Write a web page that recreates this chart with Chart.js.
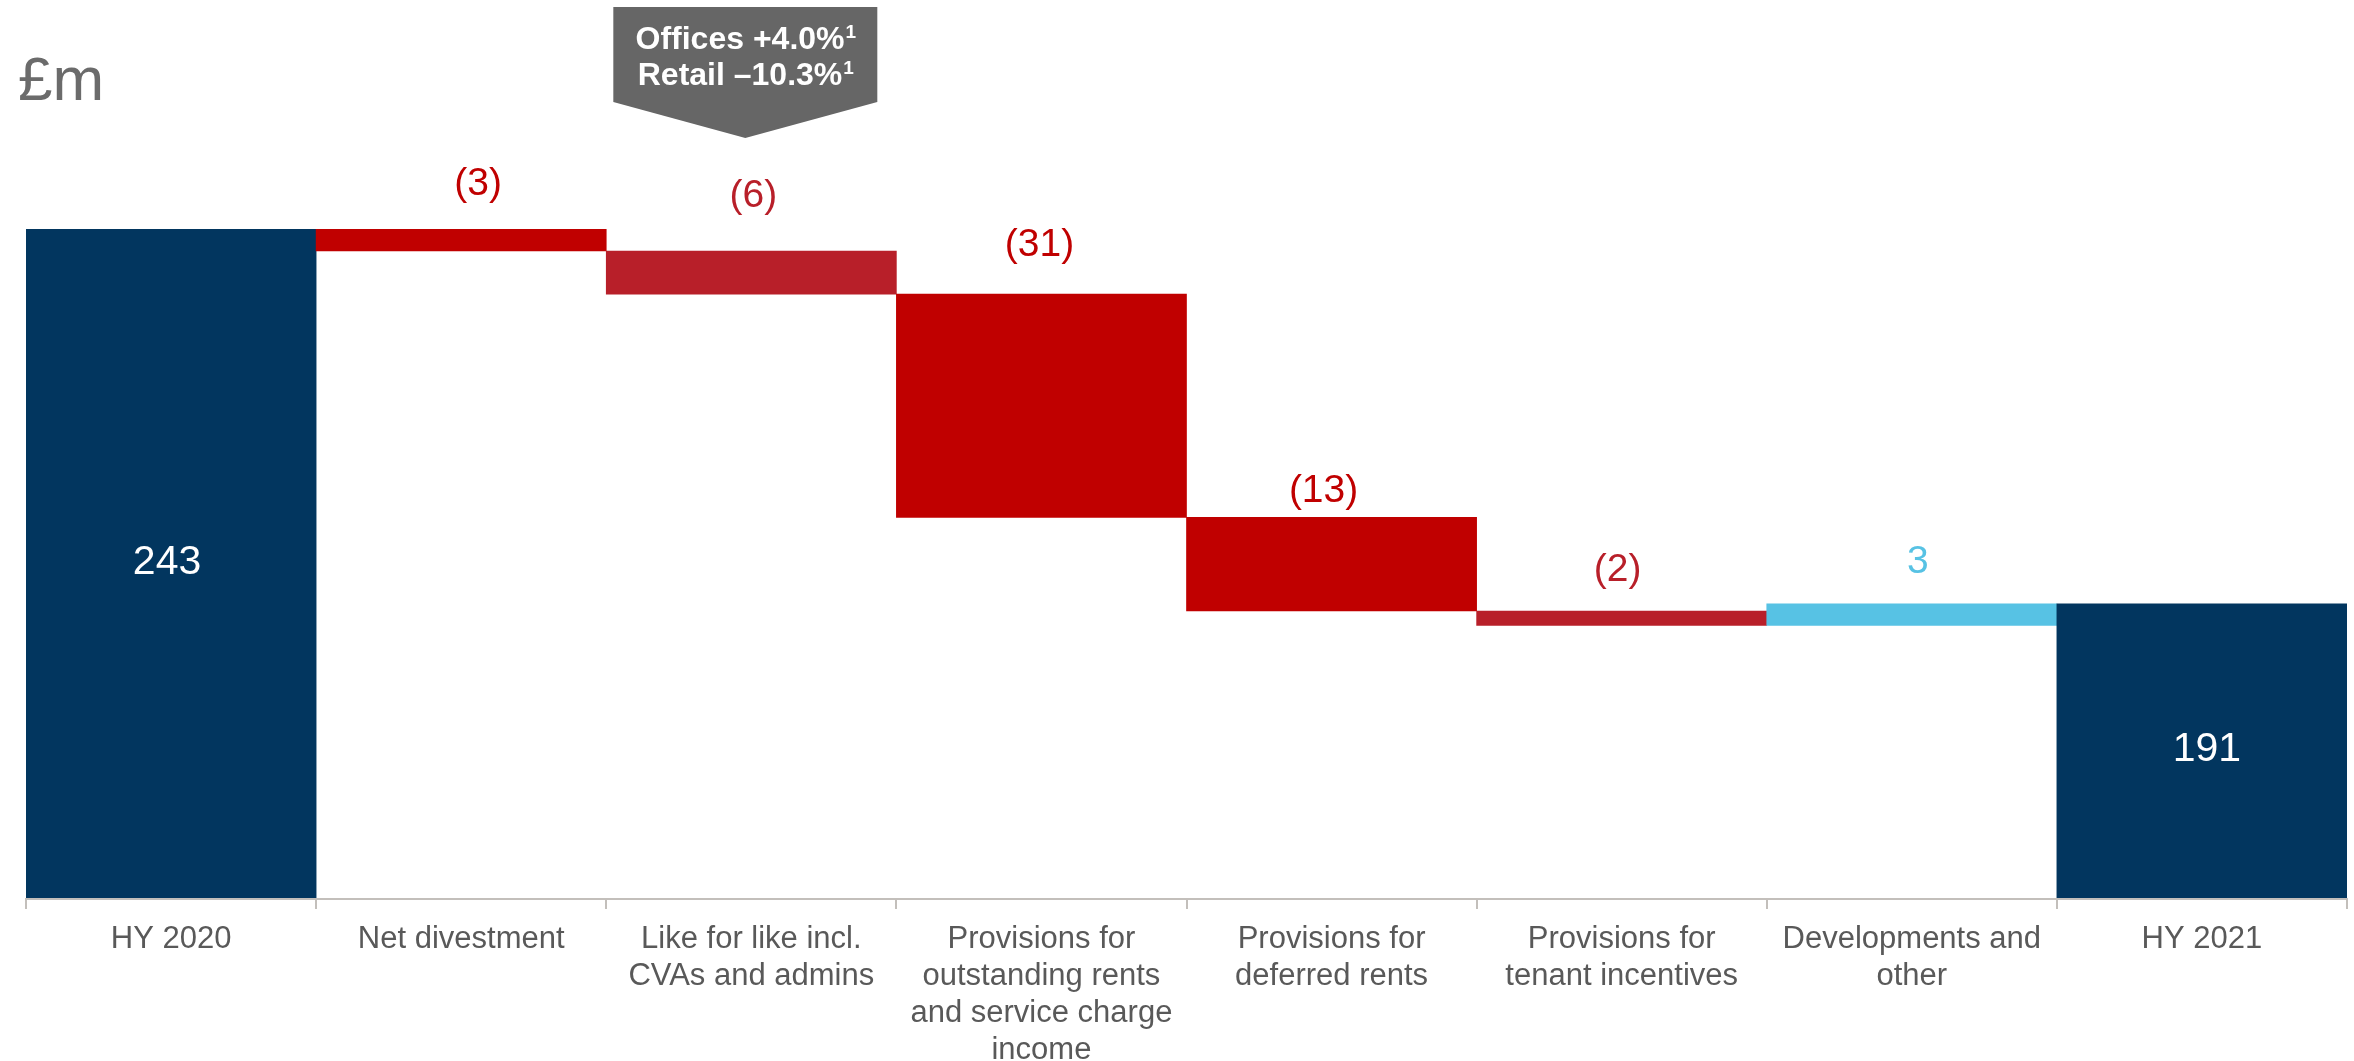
<!DOCTYPE html>
<html>
<head>
<meta charset="utf-8">
<title>Net rental income bridge</title>
<script src="https://cdn.jsdelivr.net/npm/chart.js@4/dist/chart.umd.min.js"></script>
<style>
  html, body { margin: 0; padding: 0; background: #ffffff; }
  canvas { display: block; }
</style>
</head>
<body>
<canvas id="bridge" width="2354" height="1061"></canvas>
<script>
// ---- data ----
const categories = [
  ['HY 2020'],
  ['Net divestment'],
  ['Like for like incl.', 'CVAs and admins'],
  ['Provisions for', 'outstanding rents', 'and service charge', 'income'],
  ['Provisions for', 'deferred rents'],
  ['Provisions for', 'tenant incentives'],
  ['Developments and', 'other'],
  ['HY 2021']
];
const openingTotal = 243;
const movements = [-3, -6, -31, -13, -2, 3];
const closingTotal = 191;
const unitLabel = '£m';
const calloutLines = [
  ['Offices +4.0%', '1'],
  ['Retail \u201310.3%', '1']
];

// ---- styling ----
const NAVY = '#02365f';
const RED = '#c00000';
const DARK_RED = '#b81f29';
const SKY = '#57c2e4';
const barColors = [NAVY, RED, DARK_RED, RED, RED, DARK_RED, SKY, NAVY];
const labelColors = ['#ffffff', RED, DARK_RED, RED, RED, DARK_RED, SKY, '#ffffff'];
// distance (px) from the top of each movement bar up to the centre of its label
const labelLift = [0, 45, 55, 49, 26, 41, 42, 0];
// small horizontal nudges of the value labels (px)
const labelNudge = [-4, 17, 2, -2, -8, -4, 6, 5];
const AXIS_GREY = '#c3bfbb';
const FONT = '"Liberation Sans", Arial, Helvetica, sans-serif';

// ---- build floating bars from the running total ----
const barData = [openingTotal];
const barValues = [openingTotal];
let running = openingTotal;
movements.forEach(m => {
  barData.push([running, running + m]);
  barValues.push(m);
  running += m;
});
barData.push(closingTotal);
barValues.push(closingTotal);

function labelText(i) {
  const v = barValues[i];
  if (i === 0 || i === barValues.length - 1) return String(v);
  return v < 0 ? '(' + Math.abs(v) + ')' : String(v);
}

const overlay = {
  id: 'overlay',
  afterDatasetsDraw(chart) {
    const ctx = chart.ctx;
    const meta = chart.getDatasetMeta(0);
    const yScale = chart.scales.y;
    ctx.save();
    ctx.textAlign = 'center';
    ctx.textBaseline = 'middle';
    meta.data.forEach((bar, i) => {
      const isTotal = i === 0 || i === meta.data.length - 1;
      const x = bar.x + labelNudge[i];
      ctx.fillStyle = labelColors[i];
      if (isTotal) {
        const top = yScale.getPixelForValue(barValues[i]);
        const bottom = yScale.getPixelForValue(yScale.min);
        ctx.font = '41px ' + FONT;
        ctx.fillText(labelText(i), x, (top + bottom) / 2 - 2);
      } else {
        const ends = barData[i];
        const top = yScale.getPixelForValue(Math.max(ends[0], ends[1]));
        ctx.font = '39px ' + FONT;
        ctx.fillText(labelText(i), x, top - labelLift[i]);
      }
    });
    ctx.restore();
  },
  afterDraw(chart) {
    const ctx = chart.ctx;
    ctx.save();
    // unit caption
    ctx.fillStyle = '#6b6b6b';
    ctx.font = '62px ' + FONT;
    ctx.textAlign = 'left';
    ctx.textBaseline = 'alphabetic';
    ctx.fillText(unitLabel, 18, 100);

    // arrow callout above the like-for-like bar
    const cx = chart.scales.x.getPixelForValue(2) - 6;
    const halfW = 132;
    ctx.fillStyle = '#666666';
    ctx.beginPath();
    ctx.moveTo(cx - halfW, 7);
    ctx.lineTo(cx + halfW, 7);
    ctx.lineTo(cx + halfW, 102);
    ctx.lineTo(cx, 138);
    ctx.lineTo(cx - halfW, 102);
    ctx.closePath();
    ctx.fill();

    ctx.fillStyle = '#ffffff';
    const baselines = [49, 85];
    calloutLines.forEach((parts, k) => {
      ctx.font = 'bold 32px ' + FONT;
      const mainW = ctx.measureText(parts[0]).width;
      ctx.font = 'bold 19px ' + FONT;
      const supW = ctx.measureText(parts[1]).width;
      const startX = cx - (mainW + supW) / 2;
      ctx.textAlign = 'left';
      ctx.font = 'bold 32px ' + FONT;
      ctx.fillText(parts[0], startX, baselines[k]);
      ctx.font = 'bold 19px ' + FONT;
      ctx.fillText(parts[1], startX + mainW + 1, baselines[k] - 11);
    });
    ctx.restore();
  }
};

new Chart(document.getElementById('bridge'), {
  type: 'bar',
  data: {
    labels: categories,
    datasets: [{
      data: barData,
      backgroundColor: barColors,
      borderWidth: 0,
      barPercentage: 1,
      categoryPercentage: 1
    }]
  },
  options: {
    responsive: false,
    animation: false,
    layout: { padding: { top: 179, left: 26, right: 7, bottom: 0 } },
    plugins: {
      legend: { display: false },
      tooltip: { enabled: false }
    },
    scales: {
      x: {
        offset: true,
        grid: {
          offset: true,
          drawOnChartArea: false,
          drawTicks: true,
          tickLength: 10,
          color: AXIS_GREY,
          lineWidth: 2
        },
        border: { display: true, color: AXIS_GREY, width: 2, z: 1 },
        ticks: {
          color: '#595959',
          font: { family: FONT, size: 31, lineHeight: 1.19 },
          padding: 12,
          maxRotation: 0,
          minRotation: 0,
          autoSkip: false
        },
        afterFit(scale) { scale.height = 162; }
      },
      y: { display: false, min: 150, max: 250 }
    }
  },
  plugins: [overlay]
});
</script>
</body>
</html>
